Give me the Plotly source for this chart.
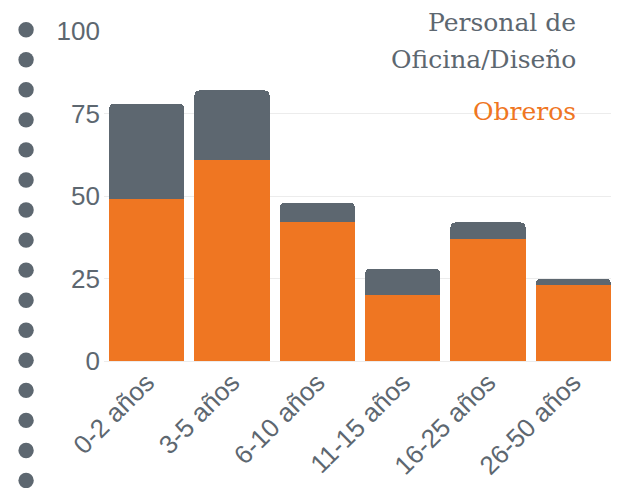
import plotly.graph_objects as go

categories = ["0-2 años", "3-5 años", "6-10 años", "11-15 años", "16-25 años", "26-50 años"]
obreros = [49, 61, 42, 20, 37, 23]
oficina = [29, 21, 6, 8, 5, 2]
y_ticks = [0, 25, 50, 75, 100]

GRAY = "#5d6770"
ORANGE = "#ef7622"
W, H = 619, 488
OFF = 8  # page body margin offset
ML, MR, MT, MB = 96, 10.5, 23.3, 135.3
PW = W - ML - MR
PH = H - MT - MB


def px(sx):
    return (sx - OFF - ML) / PW


def py(sy):
    return (H - MB - (sy - OFF)) / PH


fig = go.Figure()
fig.add_trace(go.Bar(x=categories, y=obreros, name="Obreros", marker=dict(color=ORANGE, line=dict(width=0))))
fig.add_trace(go.Bar(x=categories, y=oficina, name="Personal de Oficina/Diseño", marker=dict(color=GRAY, line=dict(width=0))))

fig.update_layout(
    width=W, height=H,
    barmode="stack",
    bargap=0.12,
    barcornerradius=5,
    showlegend=False,
    plot_bgcolor="white",
    paper_bgcolor="white",
    margin=dict(l=ML, r=MR, t=MT, b=MB, autoexpand=False),
    font=dict(family="Liberation Sans, Arial, sans-serif", color=GRAY, size=26),
    xaxis=dict(tickangle=-45, showgrid=False, showline=False, ticks="", tickfont=dict(size=26, color=GRAY)),
    yaxis=dict(range=[0, 100], tickvals=y_ticks, showgrid=True, gridcolor="#ececec", gridwidth=1,
               zeroline=True, zerolinecolor="#ececec", zerolinewidth=1, showline=False, ticks="",
               tickfont=dict(size=26, color=GRAY), ticklabelstandoff=3),
)

# Legend as colored text, top right
legend_font = "DejaVu Serif, serif"
legend_lines = [("Personal de", GRAY, 23), ("Oficina/Diseño", GRAY, 60), ("Obreros", ORANGE, 112)]
for txt, col, sy in legend_lines:
    fig.add_annotation(x=px(578), xref="paper", xanchor="right", y=py(sy), yref="paper", yanchor="middle",
                       text=txt, showarrow=False, align="right",
                       font=dict(family=legend_font, size=25, color=col))

# Decorative column of dots on the left edge
for i in range(17):
    fig.add_shape(type="circle", xref="paper", yref="paper", xsizemode="pixel", ysizemode="pixel",
                  xanchor=px(26), yanchor=py(i * 30), x0=-7.7, x1=7.7, y0=-7.7, y1=7.7,
                  fillcolor=GRAY, line=dict(width=0), layer="above")

fig.write_html("out.html")
